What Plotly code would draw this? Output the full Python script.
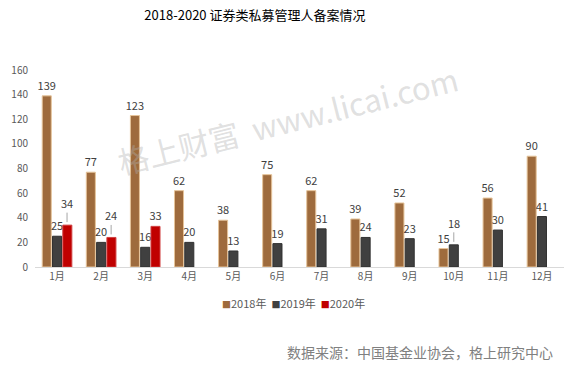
import plotly.graph_objects as go

months = ["1月", "2月", "3月", "4月", "5月", "6月", "7月", "8月", "9月", "10月", "11月", "12月"]
y2018 = [139, 77, 123, 62, 38, 75, 62, 39, 52, 15, 56, 90]
y2019 = [25, 20, 16, 20, 13, 19, 31, 24, 23, 18, 30, 41]
y2020 = [34, 24, 33, None, None, None, None, None, None, None, None, None]
series_names = ["2018年", "2019年", "2020年"]
colors = ["#9E6B3D", "#404040", "#C00000"]
edges = ["#E6C49A", "#303030", "#D04040"]
# labels drawn with a leader line instead of directly on the bar: (series index, month index)
leader_labels = [(2, 0), (2, 1), (1, 9)]

FONT = "Microsoft YaHei, Noto Sans CJK SC, sans-serif"

fig = go.Figure()
all_vals = [y2018, y2019, y2020]
for si, (name, vals) in enumerate(zip(series_names, all_vals)):
    texts = []
    for mi, v in enumerate(vals):
        if v is None or (si, mi) in leader_labels:
            texts.append("")
        else:
            texts.append(str(v))
    fig.add_trace(go.Bar(
        name=name, x=months, y=vals,
        marker=dict(color=colors[si], line=dict(color=edges[si], width=1)),
        text=texts, textposition="outside", constraintext="none", cliponaxis=False,
        textfont=dict(color="#404040", size=11, family=FONT),
    ))

slot_shift = {0: -10, 1: 0, 2: 10}
for si, mi in leader_labels:
    v = all_vals[si][mi]
    fig.add_annotation(x=months[mi], y=v, xref="x", yref="y", text=str(v),
                       showarrow=True, arrowhead=0, arrowwidth=1, arrowcolor="#A6A6A6",
                       ax=0, ay=-22, standoff=3, xshift=slot_shift[si],
                       font=dict(size=11, color="#404040", family=FONT))

fig.update_layout(
    width=569, height=368,
    margin=dict(l=35, r=5, t=70, b=101, autoexpand=False),
    paper_bgcolor="white", plot_bgcolor="white",
    barmode="group", bargap=0.3, bargroupgap=0.12,
    font=dict(family=FONT, color="#595959", size=10),
    title=dict(text="2018-2020 证券类私募管理人备案情况", x=0.448, xanchor="center",
               y=0.959, yanchor="middle", font=dict(size=13, color="#000000", family=FONT)),
    showlegend=False,
    xaxis=dict(showline=True, linecolor="#D9D9D9", linewidth=1, ticks="", automargin=False,
               tickfont=dict(size=10, color="#595959"), showgrid=False),
    yaxis=dict(range=[0, 160], dtick=20, showgrid=False, zeroline=False, showline=False,
               automargin=False, tickfont=dict(size=10, color="#595959"), ticklabelstandoff=6),
)

legend_text = "&nbsp;&nbsp;".join(
    f"<span style='color:{c};font-size:9px'>■</span>{n}" for n, c in zip(series_names, colors))
fig.add_annotation(text=legend_text, xref="paper", yref="paper", x=0.488, y=-0.183,
                   xanchor="center", yanchor="middle", showarrow=False,
                   font=dict(size=11, color="#595959", family=FONT))

fig.add_annotation(text="格上财富  www.licai.com", xref="paper", yref="paper",
                   x=0.478, y=0.75, xanchor="center", yanchor="middle", showarrow=False,
                   textangle=-14,
                   font=dict(size=31, color="rgba(175,175,175,0.4)", family=FONT))
fig.add_annotation(text="数据来源：中国基金业协会，格上研究中心", xref="paper", yref="paper",
                   x=0.983, y=-0.431, xanchor="right", yanchor="middle", showarrow=False,
                   font=dict(size=14, color="#808080", family=FONT))

fig.write_html("out.html", config={"displayModeBar": False},
               post_script="document.body.style.margin='0';document.body.style.overflow='hidden';")
